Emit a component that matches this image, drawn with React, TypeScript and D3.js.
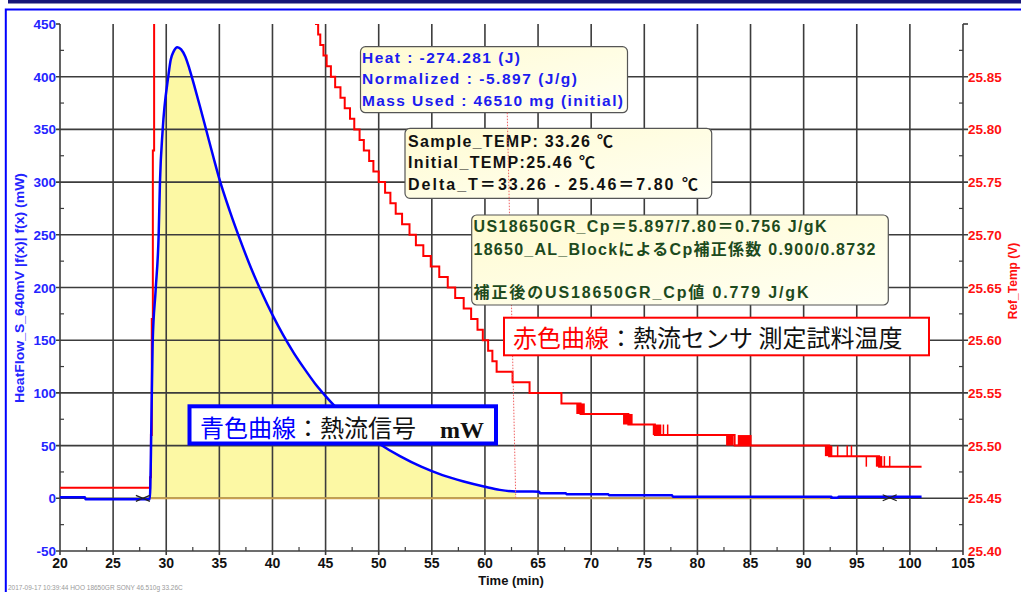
import React from "react";
import * as d3 from "d3";

// blue curve: heat flow (mW) against time (min)
const flowTime = [20, 22.35, 22.4, 28.45, 28.5, 28.56, 28.72, 29.0, 29.29, 29.41, 29.66, 30.19, 30.42, 30.7, 31.04, 31.4, 31.8, 32.17, 32.6, 33.17, 33.8, 34.43, 35.0, 36, 37, 38, 39, 40, 41, 42, 43, 44, 45, 46, 47, 48, 49, 50, 52, 54, 56, 58, 60, 61.4, 62.9, 65.1, 65.2, 67.6, 67.7, 71.6, 71.7, 77.6, 77.7, 92.6, 92.7, 93.2, 93.3, 101.1];
const flowValue = [1, 1, -1, -1, 10, 43, 147, 197, 251, 300, 349, 400, 416, 424, 428, 426, 419, 408, 393, 372, 348, 324, 303, 272, 244, 218, 195, 174, 155, 138, 123, 109, 97, 86, 76, 67, 59, 52, 40, 30, 22, 16, 11, 8, 6.5, 6.3, 4.7, 4.7, 3.8, 3.8, 2.8, 2.8, 1.5, 1.5, 0.6, 0.6, 1.5, 1.5];

// red curve: reference temperature, drawn as steps
const tempTime = [20, 28.48, 28.56, 28.64, 28.74, 28.86, 44.1, 44.3, 44.5, 44.8, 45.1, 45.5, 45.9, 46.4, 46.8, 47.3, 47.7, 48.2, 48.6, 49.1, 49.5, 50.0, 50.6, 51.1, 51.6, 52.2, 52.9, 53.5, 54.2, 54.9, 55.7, 56.5, 57.2, 58.0, 58.7, 59.3, 59.8, 60.3, 60.7, 61.1, 62.6, 64.2, 67.2, 69.0, 73.5, 76.0, 83.5, 92.4, 97.1, 101.1];
const tempValue = [25.46, 25.47, 25.51, 25.62, 25.78, 26.4, 25.90, 25.89, 25.88, 25.87, 25.86, 25.85, 25.84, 25.83, 25.82, 25.81, 25.80, 25.79, 25.78, 25.77, 25.76, 25.75, 25.74, 25.73, 25.72, 25.71, 25.70, 25.69, 25.68, 25.67, 25.66, 25.65, 25.64, 25.63, 25.62, 25.61, 25.60, 25.59, 25.58, 25.57, 25.56, 25.55, 25.54, 25.53, 25.52, 25.51, 25.50, 25.49, 25.48, 25.48];

// noisy stretches where the temperature flickers between two levels
const noiseStart = [68.6, 73.0, 75.8, 82.7, 83.8, 92.0, 96.8];
const noiseEnd = [69.4, 73.9, 76.6, 83.4, 85.1, 92.7, 97.4];
const noiseHigh = [25.54, 25.53, 25.52, 25.51, 25.51, 25.50, 25.49];
const noiseLow = [25.53, 25.52, 25.51, 25.50, 25.50, 25.49, 25.48];
const spikeTime = [76.8, 77.2, 93.2, 94.1, 94.5, 95.9, 97.6, 98.1];
const spikeFrom = [25.51, 25.51, 25.49, 25.49, 25.49, 25.49, 25.48, 25.48];
const spikeTo = [25.52, 25.52, 25.50, 25.50, 25.50, 25.48, 25.49, 25.49];

// integration limits
const markerTime = [27.8, 98.1];
const markerValue = [0, 0.5];
const fillEnd = 62.9;
const baselineEnd = 92.5;

const xTicks = [20, 25, 30, 35, 40, 45, 50, 55, 60, 65, 70, 75, 80, 85, 90, 95, 100, 105];
const yTicks = [-50, 0, 50, 100, 150, 200, 250, 300, 350, 400, 450];
const rTicks = [25.40, 25.45, 25.50, 25.55, 25.60, 25.65, 25.70, 25.75, 25.80, 25.85];

const sans = "Arial, 'Liberation Sans', 'Noto Sans CJK JP', sans-serif";
const cjk = "'Noto Sans CJK JP', sans-serif";

export default function App() {
  const x = d3.scaleLinear().domain([20, 105]).range([60, 963]);
  const y = d3.scaleLinear().domain([-50, 450]).range([551, 24]);
  const yR = d3.scaleLinear().domain([25.40, 25.90]).range([551, 24]);

  const flow = flowTime.map((t, i) => ({ t, v: flowValue[i] }));
  const temp = tempTime.map((t, i) => ({ t, v: tempValue[i] }));

  const flowLine = d3.line<any>().x(d => x(d.t)).y(d => y(d.v)).curve(d3.curveMonotoneX)(flow) || "";
  const fillArea = d3.area<any>().x(d => x(d.t)).y0(y(0)).y1(d => y(d.v)).curve(d3.curveMonotoneX)(
    flow.filter(d => d.t >= 28.45 && d.t <= fillEnd)) || "";
  const tempLine = d3.line<any>().x(d => x(d.t)).y(d => yR(d.v)).curve(d3.curveStepAfter)(temp) || "";

  const minorX = d3.range(22.5, 105, 5);
  const minorY = d3.range(-25, 450, 50);
  const minorR = d3.range(25.425, 25.9, 0.05);

  const grid = "#3c3c3c";

  return (
    <svg width={1021} height={592} style={{ position: "absolute", left: 0, top: 0, background: "#fff" }}>
      <defs>
        <clipPath id="plotClip">
          <rect x={60} y={24} width={903} height={527} />
        </clipPath>
        <linearGradient id="noteFill" x1="0" y1="0" x2="1" y2="1">
          <stop offset="0" stopColor="#fffbd2" />
          <stop offset="1" stopColor="#fffff4" />
        </linearGradient>
      </defs>

      {/* outer frame */}
      <rect x={8} y={0} width={1013} height={3.5} fill="#16167a" />
      <rect x={5.8} y={9.5} width={1030} height={600} fill="none" stroke="#0000ff" strokeWidth={2} />

      {/* yellow integral area */}
      <path d={fillArea} fill="#fcf8a4" clipPath="url(#plotClip)" />

      {/* grid */}
      {xTicks.slice(1, -1).map(t => (
        <line key={"gx" + t} x1={x(t)} x2={x(t)} y1={24} y2={555} stroke={grid} strokeWidth={1.6} />
      ))}
      {yTicks.slice(1, -1).map(v => (
        <line key={"gy" + v} x1={56} x2={968} y1={y(v)} y2={y(v)} stroke={grid} strokeWidth={1.6} />
      ))}

      {/* axes */}
      <line x1={60} x2={60} y1={24} y2={555} stroke={grid} strokeWidth={1.6} />
      <line x1={56} x2={963} y1={551} y2={551} stroke={grid} strokeWidth={1.6} />
      <line x1={963} x2={963} y1={24} y2={555} stroke={grid} strokeWidth={1.6} />
      <line x1={56} x2={60} y1={y(450)} y2={y(450)} stroke={grid} strokeWidth={1.6} />
      <line x1={963} x2={968} y1={y(450)} y2={y(450)} stroke={grid} strokeWidth={1.6} />
      {minorX.map(t => (
        <line key={"mx" + t} x1={x(t)} x2={x(t)} y1={551} y2={547} stroke={grid} strokeWidth={1.2} />
      ))}
      {minorY.map(v => (
        <line key={"my" + v} x1={60} x2={64} y1={y(v)} y2={y(v)} stroke={grid} strokeWidth={1.2} />
      ))}
      {minorR.map(v => (
        <line key={"mr" + v} x1={959} x2={963} y1={yR(v)} y2={yR(v)} stroke={grid} strokeWidth={1.2} />
      ))}

      {/* baseline under the integral */}
      <line x1={x(28.45)} x2={x(baselineEnd)} y1={y(0)} y2={y(0)} stroke="#c9a04e" strokeWidth={2} />

      {/* tick labels */}
      {xTicks.map(t => (
        <text key={"xt" + t} x={x(t)} y={568} textAnchor="middle" fontFamily={sans} fontWeight="bold" fontSize={14} fill="#111">{t}</text>
      ))}
      {yTicks.map(v => (
        <text key={"yt" + v} x={56} y={y(v) + 5} textAnchor="end" fontFamily={sans} fontWeight="bold" fontSize={13.5} fill="#2424ff">{v}</text>
      ))}
      {rTicks.map(v => (
        <text key={"rt" + v} x={968} y={yR(v) + 5} textAnchor="start" fontFamily={sans} fontWeight="bold" fontSize={13.5} fill="#ff1010">{v.toFixed(2)}</text>
      ))}

      {/* axis titles */}
      <text x={511} y={585} textAnchor="middle" fontFamily={sans} fontWeight="bold" fontSize={13} fill="#111">Time (min)</text>
      <text transform="translate(24,288) rotate(-90)" textAnchor="middle" fontFamily={sans} fontWeight="bold" fontSize={12} fill="#2424ff" textLength={230} lengthAdjust="spacingAndGlyphs">HeatFlow_S_640mV |f(x)| f(x) (mW)</text>
      <text transform="translate(1017,281) rotate(-90)" textAnchor="middle" fontFamily={sans} fontWeight="bold" fontSize={12} fill="#ff1010">Ref_Temp (V)</text>
      <text x={8} y={590} fontFamily={sans} fontSize={6.5} fill="#9a9a9a">2017-09-17  10:39:44  HOO  18650GR  SONY  46.510g  33.26C</text>

      {/* red temperature curve */}
      <g clipPath="url(#plotClip)">
        <path d={tempLine} fill="none" stroke="#ff0000" strokeWidth={2} />
        {noiseStart.map((t, i) => (
          <rect key={"n" + i} x={x(t)} width={x(noiseEnd[i]) - x(t)} y={yR(noiseHigh[i])} height={yR(noiseLow[i]) - yR(noiseHigh[i])} fill="#ff0000" />
        ))}
        {spikeTime.map((t, i) => (
          <line key={"s" + i} x1={x(t)} x2={x(t)} y1={yR(spikeFrom[i])} y2={yR(spikeTo[i])} stroke="#ff0000" strokeWidth={1.5} />
        ))}
      </g>

      {/* blue heat flow curve */}
      <path d={flowLine} fill="none" stroke="#0000ff" strokeWidth={2.5} strokeLinejoin="round" clipPath="url(#plotClip)" />

      {/* integration markers */}
      {markerTime.map((t, i) => {
        const cx = x(t), cy = y(markerValue[i]);
        return (
          <path key={"mk" + i} d={`M${cx - 7},${cy - 3}L${cx},${cy}L${cx - 7},${cy + 3}M${cx + 7},${cy - 3}L${cx},${cy}L${cx + 7},${cy + 3}`}
            fill="none" stroke="#222" strokeWidth={1.3} />
        );
      })}

      {/* note: heat */}
      <rect x={360.5} y={46.7} width={267} height={66} rx={5} fill="url(#noteFill)" stroke="#555" strokeWidth={1.2} />
      <g fontFamily={sans} fontWeight="bold" fontSize={15.5} fill="#1c1cf0">
        <text x={362} y={62.7} textLength={158} lengthAdjust="spacing">{"Heat :  -274.281 (J)"}</text>
        <text x={362} y={84.3} textLength={215} lengthAdjust="spacing">{"Normalized :  -5.897 (J/g)"}</text>
        <text x={362} y={106} textLength={261} lengthAdjust="spacing">{"Mass Used :  46510 mg (initial)"}</text>
      </g>

      {/* note: temperatures */}
      <rect x={405} y={128.3} width={306.7} height={70} rx={5} fill="url(#noteFill)" stroke="#555" strokeWidth={1.2} />
      <g fontFamily={sans} fontWeight="bold" fontSize={16} fill="#111">
        <text x={408} y={146.7} textLength={205} lengthAdjust="spacing">{"Sample_TEMP: 33.26  ℃"}</text>
        <text x={408} y={168.3} textLength={187} lengthAdjust="spacing">{"Initial_TEMP:25.46  ℃"}</text>
        <text x={408} y={190} textLength={290} lengthAdjust="spacing">{"Delta_T＝33.26  -  25.46＝7.80  ℃"}</text>
      </g>

      {/* integration end line */}
      <line x1={x(62.1)} x2={x(fillEnd)} y1={112.7} y2={y(0)} stroke="#f06060" strokeWidth={1} strokeDasharray="1.5,1.5" />

      {/* note: specific heat */}
      <rect x={471.7} y={215} width={416.6} height={90} rx={5} fill="url(#noteFill)" stroke="#555" strokeWidth={1.2} />
      <g fontFamily={sans} fontWeight="bold" fontSize={16} fill="#1d4a1d">
        <text x={473.5} y={231.7} textLength={353} lengthAdjust="spacing">{"US18650GR_Cp＝5.897/7.80＝0.756  J/gK"}</text>
        <text x={473.5} y={255} textLength={402} lengthAdjust="spacing">{"18650_AL_BlockによるCp補正係数  0.900/0.8732"}</text>
        <text x={473.5} y={298.3} textLength={335} lengthAdjust="spacing">{"補正後のUS18650GR_Cp値  0.779  J/gK"}</text>
      </g>

      {/* legend labels */}
      <rect x={504} y={317.7} width={425} height={37.6} fill="#fff" stroke="#ff0000" strokeWidth={2} />
      <text x={513} y={347} fontFamily={cjk} fontSize={24}>
        <tspan fill="#ff0000">赤色曲線</tspan>
        <tspan fill="#111">：熱流センサ 測定試料温度</tspan>
      </text>

      <rect x={189.5} y={406.3} width={306.5} height={37.2} fill="#fff" stroke="#0000ff" strokeWidth={4} />
      <text x={200} y={437} fontFamily={cjk} fontSize={24}>
        <tspan fill="#0000ff">青色曲線</tspan>
        <tspan fill="#111">：熱流信号</tspan>
      </text>
      <text x={440} y={438} fontFamily="'Liberation Serif', 'Times New Roman', serif" fontWeight="bold" fontSize={24} fill="#111">mW</text>
    </svg>
  );
}
